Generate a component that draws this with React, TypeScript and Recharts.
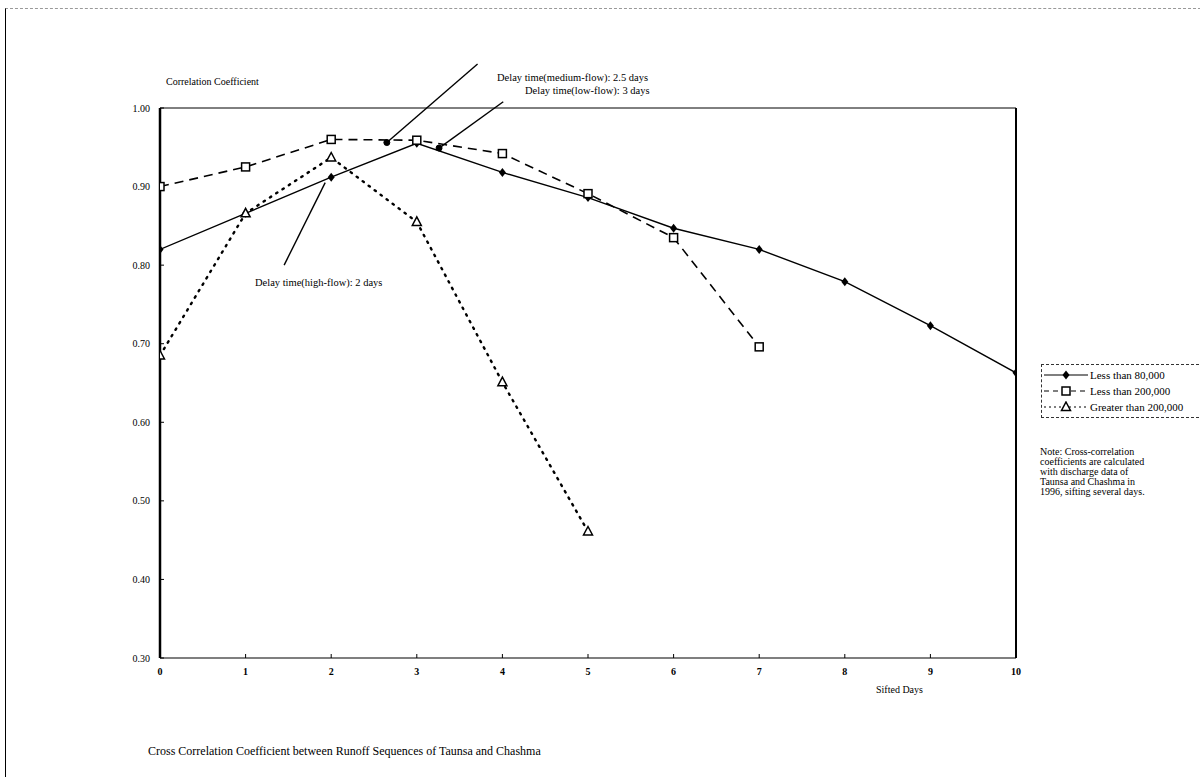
import React from "react";
import {
  Line,
  LineChart,
  ReferenceDot,
  ReferenceLine,
  XAxis,
  YAxis,
} from "recharts";

const days = [0, 1, 2, 3, 4, 5, 6, 7, 8, 9, 10];
const lessThan80k = [0.82, 0.866, 0.912, 0.955, 0.918, 0.886, 0.847, 0.82, 0.779, 0.723, 0.663];
const lessThan200k = [0.9, 0.925, 0.96, 0.959, 0.942, 0.891, 0.835, 0.696];
const greaterThan200k = [0.685, 0.866, 0.937, 0.855, 0.651, 0.461];
const yTicks = [0.3, 0.4, 0.5, 0.6, 0.7, 0.8, 0.9, 1.0];

// annotation arrows: [from, to] in data units
const arrowMedium = [{ x: 2.65, y: 0.956 }, { x: 3.71, y: 1.056 }];
const arrowLow = [{ x: 3.26, y: 0.949 }, { x: 4.01, y: 1.008 }];
const arrowHigh = [{ x: 1.93, y: 0.905 }, { x: 1.45, y: 0.8 }];
const noteLines = [
  "Note: Cross-correlation",
  "coefficients are calculated",
  "with discharge data of",
  "Taunsa and Chashma in",
  "1996, sifting several days.",
];

const data = days.map((d, i) => ({
  day: d,
  low: lessThan80k[i],
  mid: lessThan200k[i],
  high: greaterThan200k[i],
}));

const FONT = "'Liberation Serif', 'DejaVu Serif', serif";

const Diamond = (p: any) => {
  const { cx, cy, value } = p;
  if (value == null || cx == null) return null;
  return <path d={`M${cx},${cy - 4.5}L${cx + 3.5},${cy}L${cx},${cy + 4.5}L${cx - 3.5},${cy}Z`} fill="#000" />;
};
const Square = (p: any) => {
  const { cx, cy, value } = p;
  if (value == null || cx == null) return null;
  return <rect x={cx - 4} y={cy - 4} width={8} height={8} fill="#fff" stroke="#000" strokeWidth={1.5} />;
};
const Triangle = (p: any) => {
  const { cx, cy, value } = p;
  if (value == null || cx == null) return null;
  return <path d={`M${cx},${cy - 5}L${cx + 4.5},${cy + 3.5}L${cx - 4.5},${cy + 3.5}Z`} fill="#fff" stroke="#000" strokeWidth={1.5} />;
};

const legendRows = [
  { name: "Less than 80,000", dash: undefined, mark: "d" },
  { name: "Less than 200,000", dash: "5 4", mark: "s" },
  { name: "Greater than 200,000", dash: "2 3", mark: "t" },
];

const LegendBox = () => (
  <div
    style={{
      position: "absolute",
      left: 1041,
      top: 364,
      border: "1px dashed #333",
      borderRight: "none",
      padding: "2px 0 2px 2px",
      width: 160,
      fontFamily: FONT,
      fontSize: 11,
      color: "#000",
      background: "#fff",
    }}
  >
    {legendRows.map((r) => (
      <div key={r.name} style={{ display: "flex", alignItems: "center", height: 16 }}>
        <svg width={44} height={12} style={{ marginRight: 2 }}>
          <line x1={0} y1={6} x2={44} y2={6} stroke="#000" strokeWidth={1.2} strokeDasharray={r.dash} />
          {r.mark === "d" && <Diamond cx={22} cy={6} value={1} />}
          {r.mark === "s" && <Square cx={22} cy={6} value={1} />}
          {r.mark === "t" && <Triangle cx={22} cy={6} value={1} />}
        </svg>
        <span>{r.name}</span>
      </div>
    ))}
  </div>
);

const text = (left: number, top: number, size: number): React.CSSProperties => ({
  position: "absolute",
  left,
  top,
  fontFamily: FONT,
  fontSize: size,
  color: "#000",
  whiteSpace: "nowrap",
});

export default function App() {
  return (
    <div style={{ position: "absolute", left: 0, top: 0, width: 1200, height: 777, background: "#fff", overflow: "hidden" }}>
      <div style={{ position: "absolute", left: 5, top: 8, width: 1195, height: 769, borderLeft: "1px solid #000", borderTop: "1px dashed #999" }} />
      <LineChart width={1200} height={777} data={data} margin={{ top: 108, right: 184, bottom: 89, left: 115 }}>
        <XAxis
          dataKey="day"
          type="number"
          domain={[0, 10]}
          ticks={days}
          allowDataOverflow
          height={30}
          tickSize={-4}
          tickMargin={14}
          tick={{ fill: "#000", fontSize: 10, fontFamily: FONT, fontWeight: 700 }}
          axisLine={{ stroke: "#000", strokeWidth: 1.2 }}
          tickLine={{ stroke: "#000" }}
        />
        <YAxis
          type="number"
          domain={[0.3, 1.0]}
          ticks={yTicks}
          allowDataOverflow
          width={45}
          tickSize={-4}
          tickMargin={14}
          tickFormatter={(v: number) => v.toFixed(2)}
          tick={{ fill: "#000", fontSize: 10, fontFamily: FONT }}
          axisLine={{ stroke: "#000", strokeWidth: 2.5 }}
          tickLine={{ stroke: "#000" }}
        />
        <ReferenceLine y={1} stroke="#000" strokeWidth={1} />
        <ReferenceLine x={10} stroke="#000" strokeWidth={2} />
        <Line
          type="linear"
          dataKey="low"
          name="Less than 80,000"
          stroke="#000"
          strokeWidth={1.4}
          dot={Diamond}
          activeDot={false}
          isAnimationActive={false}
        />
        <Line
          type="linear"
          dataKey="mid"
          name="Less than 200,000"
          stroke="#000"
          strokeWidth={1.6}
          strokeDasharray="9 6"
          dot={Square}
          activeDot={false}
          isAnimationActive={false}
        />
        <Line
          type="linear"
          dataKey="high"
          name="Greater than 200,000"
          stroke="#000"
          strokeWidth={2.4}
          strokeDasharray="1.5 6"
          strokeLinecap="round"
          dot={Triangle}
          activeDot={false}
          isAnimationActive={false}
        />
        <ReferenceLine segment={arrowMedium} stroke="#000" strokeWidth={1.4} ifOverflow="visible" />
        <ReferenceLine segment={arrowLow} stroke="#000" strokeWidth={1.4} ifOverflow="visible" />
        <ReferenceLine segment={arrowHigh} stroke="#000" strokeWidth={1.4} ifOverflow="visible" />
        <ReferenceDot x={arrowMedium[0].x} y={arrowMedium[0].y} r={3} fill="#000" stroke="#000" ifOverflow="visible" />
        <ReferenceDot x={arrowLow[0].x} y={arrowLow[0].y} r={3} fill="#000" stroke="#000" ifOverflow="visible" />
      </LineChart>
      <LegendBox />
      <div style={text(497, 72, 10.5)}>Delay time(medium-flow): 2.5 days</div>
      <div style={text(525, 85, 10.5)}>Delay time(low-flow): 3 days</div>
      <div style={text(255, 277, 10.5)}>Delay time(high-flow): 2 days</div>
      <div style={text(166, 76, 10)}>Correlation Coefficient</div>
      <div style={text(876, 684, 10)}>Sifted Days</div>
      <div style={text(148, 744, 12)}>Cross Correlation Coefficient between Runoff Sequences of Taunsa and Chashma</div>
      <div style={{ ...text(1040, 447, 10), lineHeight: "10px", whiteSpace: "normal" }}>
        {noteLines.map((l) => (
          <div key={l}>{l}</div>
        ))}
      </div>
    </div>
  );
}
